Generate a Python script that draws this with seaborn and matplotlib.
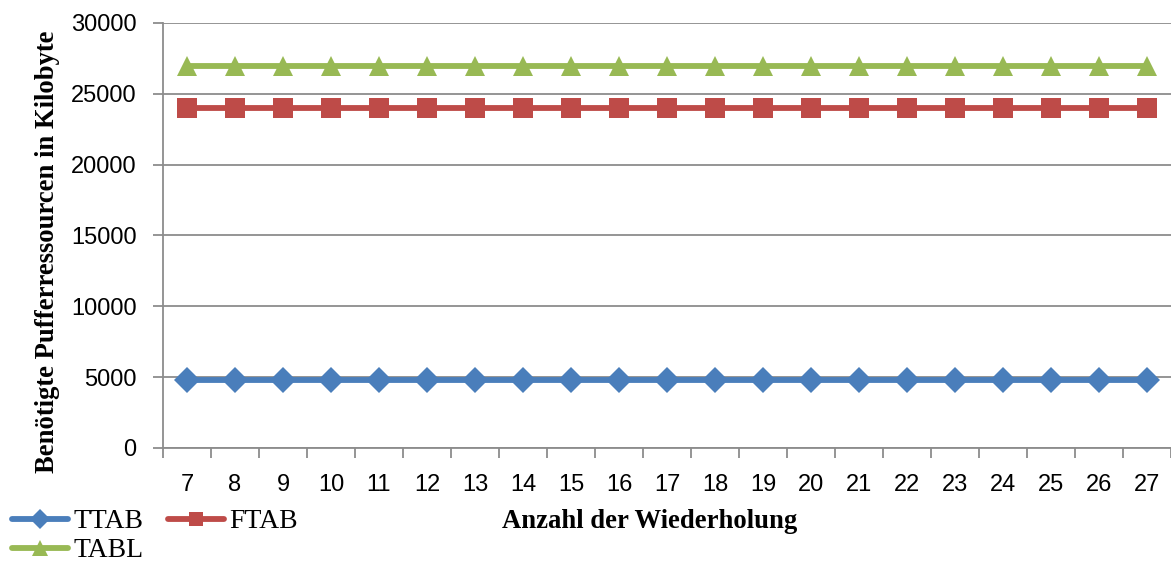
import matplotlib
matplotlib.use("Agg")
import matplotlib.pyplot as plt
from matplotlib.ticker import FixedLocator, MultipleLocator
import seaborn as sns
import pandas as pd

# Number of repetitions on the x axis
repetitions = list(range(7, 28))

# Required buffer resources (kilobytes) per strategy
ttab = [4800] * len(repetitions)
ftab = [24000] * len(repetitions)
tabl = [27000] * len(repetitions)

series_names = ["TTAB", "FTAB", "TABL"]
series_colors = {"TTAB": "#4A7EBB", "FTAB": "#BE4B48", "TABL": "#98B954"}
series_markers = {"TTAB": "D", "FTAB": "s", "TABL": "^"}
series_msize = {"TTAB": 13, "FTAB": 14, "TABL": 15}

df = pd.DataFrame({
    "Wiederholung": repetitions * 3,
    "Kilobyte": ttab + ftab + tabl,
    "Serie": ["TTAB"] * len(repetitions) + ["FTAB"] * len(repetitions) + ["TABL"] * len(repetitions),
})

sns.set_theme(style="white")
plt.rcParams["font.family"] = ["Liberation Sans", "DejaVu Sans"]
plt.rcParams["text.color"] = "black"

fig = plt.figure(figsize=(11.71, 5.62), dpi=100)
ax = fig.add_axes([163 / 1171, 1 - 448 / 562, 1 - 163 / 1171, (448 - 23) / 562])

# horizontal gridlines behind the series
ax.set_axisbelow(True)
ax.yaxis.grid(True, color="#8C8C8C", linewidth=1.3)

for name in series_names:
    sub = df[df["Serie"] == name]
    sns.lineplot(data=sub, x="Wiederholung", y="Kilobyte", ax=ax,
                 color=series_colors[name], marker=series_markers[name],
                 markersize=series_msize[name],
                 markeredgewidth=0, linewidth=4.2, label=name, zorder=3)

ax.set_xlim(repetitions[0] - 0.5, repetitions[-1] + 0.5)
ax.set_ylim(0, 30000)
ax.yaxis.set_major_locator(MultipleLocator(5000))

ax.set_xticks(repetitions)
ax.set_xticklabels([str(r) for r in repetitions])
ax.xaxis.set_minor_locator(FixedLocator([r - 0.5 for r in repetitions] + [repetitions[-1] + 0.5]))
ax.tick_params(axis="x", which="major", length=0, pad=19, labelsize=17, labelcolor="black")
ax.tick_params(axis="x", which="minor", bottom=True, length=7, width=1.3, color="#8C8C8C")
ax.tick_params(axis="y", which="major", left=True, length=7, width=1.3, color="#8C8C8C",
               labelsize=17, labelcolor="black", pad=12)

for side in ["top", "right"]:
    ax.spines[side].set_visible(False)
for side in ["left", "bottom"]:
    ax.spines[side].set_color("#8C8C8C")
    ax.spines[side].set_linewidth(1.3)

serif_bold = dict(family=["Liberation Serif", "DejaVu Serif"], weight="bold", size=19.2,
                  color="black")
ax.set_xlabel("")
ax.set_ylabel("")
fig.text(48 / 1171, 1 - 252 / 562, "Benötigte Pufferressourcen in Kilobyte",
         rotation=90, ha="center", va="center", **serif_bold)
fig.text(650 / 1171, 1 - 521 / 562, "Anzahl der Wiederholung",
         ha="center", va="center", **serif_bold)

handles, labels = ax.get_legend_handles_labels()
order = [labels.index(n) for n in ["TTAB", "TABL", "FTAB"]]
ax.get_legend().remove()
fig.legend([handles[i] for i in order], [labels[i] for i in order],
           loc="upper left", bbox_to_anchor=(12 / 1171, 1 - 509 / 562),
           ncol=2, frameon=False, handlelength=2.0, handletextpad=0.2,
           columnspacing=0.9, labelspacing=0.12, borderaxespad=0, borderpad=0,
           markerscale=0.75, labelcolor="black",
           prop={"family": ["Liberation Serif", "DejaVu Serif"], "size": 20})

fig.savefig("out.png", dpi=100)
